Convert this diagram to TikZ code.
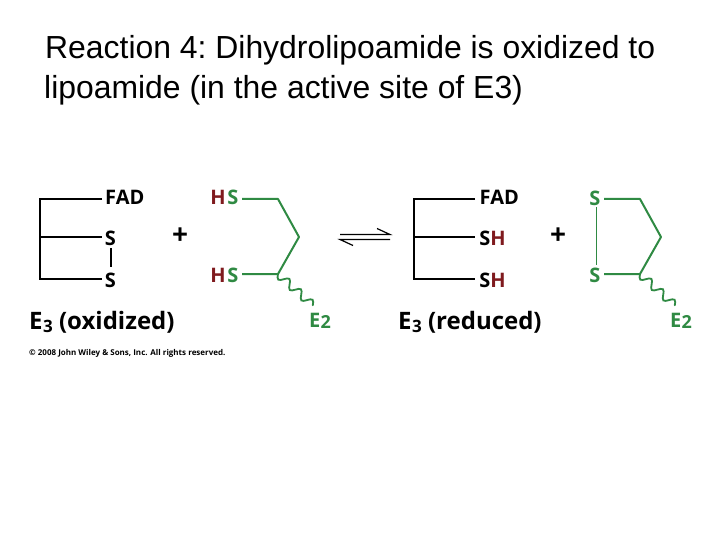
\documentclass[tikz,border=0pt]{standalone}
\usepackage{fontspec}
\setmainfont{Liberation Sans}
\newfontfamily\chem{Open Sans}
\definecolor{gr}{HTML}{2F8A43}
\definecolor{rd}{HTML}{7F1A1E}
\tikzset{
 title/.style={anchor=west,inner sep=0,font=\frenchspacing\fontsize{31.9}{36}\selectfont,text=black},
 blk/.style={inner sep=0,font=\chem\bfseries\fontsize{20}{22}\selectfont,text=black},
 grn/.style={blk,text=gr},
 red/.style={blk,text=rd},
 lab/.style={inner sep=0,anchor=west,font=\chem\bfseries\fontsize{24}{27}\selectfont,text=black},
 plussign/.style={inner sep=0,font=\chem\bfseries\fontsize{28}{30}\selectfont,text=black},
 bk/.style={draw=black,line width=2.4pt},
 gl/.style={draw=gr,line width=2pt,line join=round},
 wav/.style={draw=gr,line width=1.8pt,line cap=round},
 eq/.style={draw=black,line width=1.2pt},
}
\newcommand{\wavepath}{(0,0) sin (3.9,4) cos (7.8,0) sin (11.7,-4) cos (15.6,0) sin (19.5,4) cos (23.4,0) sin (27.3,-4) cos (31.2,0) sin (35.1,4) cos (39,0) sin (42.9,-4) cos (46.8,0)}
\begin{document}
\begin{tikzpicture}[x=1pt,y=-1pt]
\useasboundingbox (0,0) rectangle (720,540);
\fill[white] (0,0) rectangle (720,540);
\node[title] (t1) at (45,50) {Reaction 4: Dihydrolipoamide is oxidized to};
\node[title] (t2) at (44,90) {lipoamide (in the active site of E3)};
% left E3
\coordinate (a) at (40,199); \coordinate (b) at (40,237); \coordinate (c) at (40,279);
\node[blk,anchor=west] (fad1) at (105,197) {FAD};
\node[blk] (s1) at (110.5,238) {S};
\node[blk] (s2) at (110.5,280) {S};
\draw[bk] (fad1.west |- a) ++(-3,0) coordinate (a2) -- (a) -- (c) -- (c -| a2);
\draw[bk] (b) -- (b -| a2);
\draw[black,line width=2pt] (110.5,248) coordinate (b1) -- (110.5,267) coordinate (b2);
\node[plussign] (p1) at (180,236) {+};
% left lipoamide
\node[red] (h1) at (218,197) {H}; \node[grn] (hs1) at (233,197) {S};
\node[red] (h2) at (218,275) {H}; \node[grn] (hs2) at (233,275) {S};
\coordinate (d) at (278,199); \coordinate (e) at (299,237); \coordinate (f) at (278,274);
\node[grn] (e21) at (320,321) {E\kern.5pt\raisebox{-1.5pt}{\fontsize{18}{20}\selectfont 2}};
\draw[gl] (242,199) coordinate (g1) -- (d) -- (e) -- (f) -- (242,274) coordinate (g2);
\draw[wav,shift={(f)},rotate=-42] \wavepath;
% equilibrium arrows
\coordinate (q1) at (340,234.5); \coordinate (q2) at (390,234.5);
\coordinate (q3) at (340,239.5); \coordinate (q4) at (390,239.5);
\draw[eq] (q1) -- (q2) -- (377,228.5);
\draw[eq] (q4) -- (q3) -- (353,245.5);
% right E3
\coordinate (m) at (414,199); \coordinate (n) at (414,237); \coordinate (o) at (414,279);
\node[blk,anchor=west] (fad2) at (479.5,197) {FAD};
\node[blk] (s3) at (485,238) {S}; \node[red] (h3) at (498,238) {H};
\node[blk] (s4) at (485,280) {S}; \node[red] (h4) at (498,280) {H};
\draw[bk] (475,199) coordinate (m2) -- (m) -- (o) -- (o -| m2);
\draw[bk] (n) -- (n -| m2);
\node[plussign] (p2) at (558,236) {+};
% right lipoic
\node[grn] (s5) at (595,198) {S}; \node[grn] (s6) at (595,275) {S};
\coordinate (u) at (640,199); \coordinate (v) at (661,237); \coordinate (x) at (640,274);
\draw[gl] (604,199) -- (u) -- (v) -- (x) -- (604,274);
\draw[gl,line width=1.7pt] (596.5,207) -- (596.5,265);
\draw[wav,shift={(x)},rotate=-42] \wavepath;
\node[grn] (e22) at (681,321) {E\kern.5pt\raisebox{-1.5pt}{\fontsize{18}{20}\selectfont 2}};
% labels
\node[lab] (l1) at (29,322) {E\kern.5pt\raisebox{-3pt}{\fontsize{17}{18}\selectfont 3} (oxidized)};
\node[lab] (l2) at (398,322) {E\kern.5pt\raisebox{-3pt}{\fontsize{17}{18}\selectfont 3} (reduced)};
\node[inner sep=0,anchor=west,font=\chem\bfseries\fontsize{8}{9}\selectfont] (c1) at (29,353) {© 2008 John Wiley \& Sons, Inc. All rights reserved.};
\end{tikzpicture}
\end{document}
